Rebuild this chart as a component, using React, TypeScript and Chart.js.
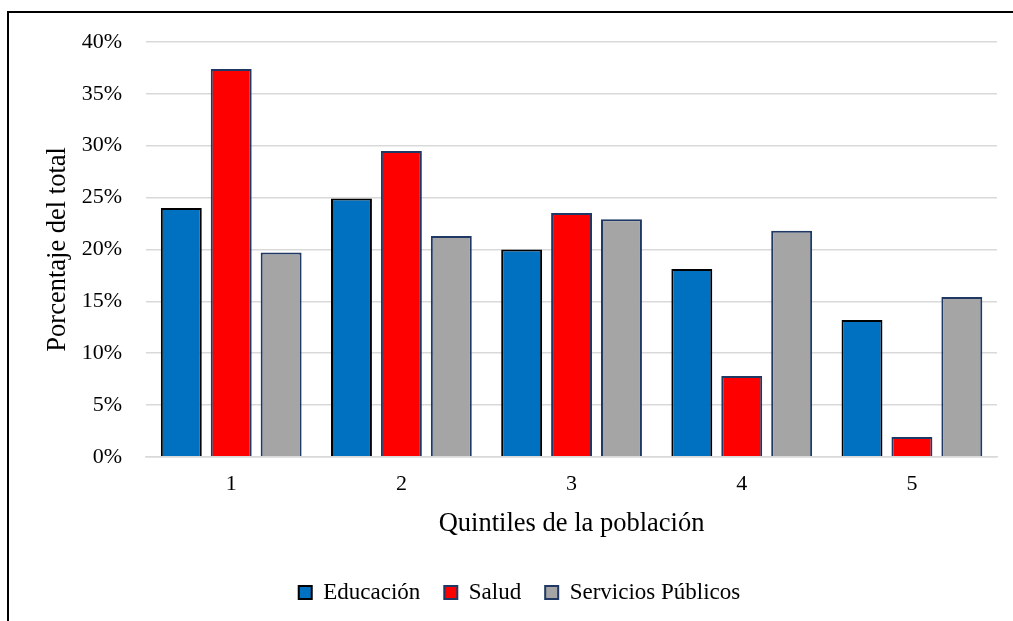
import React, { useEffect, useRef } from "react";
import { Chart, registerables } from "chart.js";

Chart.register(...registerables);

const categories = ["1", "2", "3", "4", "5"];
const educacion = [24.0, 24.9, 20.0, 18.1, 13.2];
const salud = [37.4, 29.5, 23.5, 7.8, 1.9];
const servicios = [19.7, 21.3, 22.9, 21.8, 15.4];
const yTicks = [0, 5, 10, 15, 20, 25, 30, 35, 40];

const FONT = "'Liberation Serif', 'Times New Roman', serif";
const W = 1013;
const H = 627;

export default function App() {
  const ref = useRef<HTMLCanvasElement | null>(null);
  useEffect(() => {
    let chart: Chart | null = null;
    let cancelled = false;
    const make = () => {
      if (cancelled || !ref.current) return;
      chart = new Chart(ref.current, {
        type: "bar",
        data: {
          labels: categories,
          datasets: [
            {
              label: "Educación",
              data: educacion,
              backgroundColor: "#0070C0",
              borderColor: "#000000",
              borderWidth: 2,
              categoryPercentage: 0.88,
              barPercentage: 0.82,
            },
            {
              label: "Salud",
              data: salud,
              backgroundColor: "#FF0000",
              borderColor: "#1F3864",
              borderWidth: 2,
              categoryPercentage: 0.88,
              barPercentage: 0.82,
            },
            {
              label: "Servicios Públicos",
              data: servicios,
              backgroundColor: "#A5A5A5",
              borderColor: "#1F3864",
              borderWidth: 2,
              categoryPercentage: 0.88,
              barPercentage: 0.82,
            },
          ],
        },
        options: {
          responsive: false,
          animation: false,
          layout: { padding: { left: 42, right: 16, top: 42, bottom: 13 } },
          plugins: {
            tooltip: { enabled: false },
            legend: {
              position: "bottom",
              labels: {
                color: "#000",
                font: { family: FONT, size: 23 },
                boxWidth: 13,
                boxHeight: 13,
                padding: 24,
              },
            },
          },
          scales: {
            x: {
              grid: { display: false },
              border: { display: true, color: "#D9D9D9", width: 1.5 },
              ticks: { color: "#000", font: { family: FONT, size: 22 }, padding: 6 },
              title: {
                display: true,
                text: "Quintiles de la población",
                color: "#000",
                font: { family: FONT, size: 26.5 },
                padding: { top: 5, bottom: 17 },
              },
            },
            y: {
              min: 0,
              max: 40,
              afterBuildTicks: (axis: any) => {
                axis.ticks = yTicks.map((v) => ({ value: v }));
              },
              grid: { color: "#D9D9D9", lineWidth: 1.5, drawTicks: false },
              border: { display: false },
              ticks: {
                color: "#000",
                font: { family: FONT, size: 22 },
                padding: 24,
                callback: (v: any) => v + "%",
              },
              title: {
                display: true,
                text: "Porcentaje del total",
                color: "#000",
                font: { family: FONT, size: 26.5 },
                padding: { top: 0, bottom: -16 },
              },
            },
          },
        },
      });
    };
    Promise.all([
      document.fonts.load("22px 'Liberation Serif'"),
      document.fonts.load("26px 'Liberation Serif'"),
    ])
      .catch(() => null)
      .then(make);
    return () => {
      cancelled = true;
      if (chart) chart.destroy();
    };
  }, []);

  return (
    <div style={{ position: "fixed", inset: 0, overflow: "hidden", background: "#fff" }}>
      <div
        style={{
          position: "absolute",
          left: 7,
          top: 11,
          width: 1100,
          height: 700,
          borderLeft: "2px solid #000",
          borderTop: "2px solid #000",
          boxSizing: "border-box",
        }}
      />
      <canvas
        ref={ref}
        width={W}
        height={H}
        style={{ position: "absolute", left: 0, top: 0, width: W, height: H }}
      />
    </div>
  );
}
